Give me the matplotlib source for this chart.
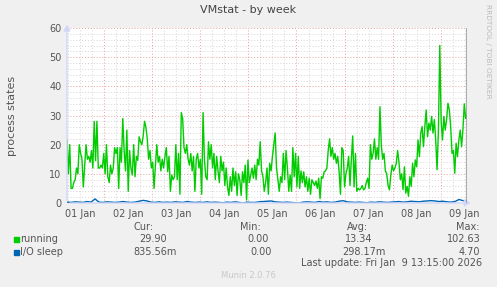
import matplotlib
matplotlib.use('Agg')
import matplotlib.pyplot as plt
import matplotlib.dates as mdates
from matplotlib.ticker import MultipleLocator, FuncFormatter, NullFormatter
from matplotlib.patches import Rectangle
from datetime import datetime

# time window of the week graph
start = datetime(2026, 1, 1, 5, 15)
end = datetime(2026, 1, 9, 13, 15)

# running processes left to right
running = [
    21.6, 10, 20, 5, 5, 7, 8, 12, 10, 20, 17, 15, 5.5, 13, 20, 15, 16, 14, 18, 12, 28, 14.5, 28, 12, 12, 13,
    12, 17, 10, 20, 9, 7, 13, 10, 12, 19, 17, 19, 5, 19, 14, 29,
    18, 11, 25, 4, 18, 12, 9.6, 20, 9, 16, 14.6, 22.7, 21, 20, 23, 28, 26, 22, 15, 18, 12, 14, 5, 13,
    20, 14, 16, 11, 15, 12, 16, 19, 10.7, 16, 4, 9.6, 8, 9, 20, 8,
    17, 3, 31, 29, 19, 17, 20, 15, 13, 17, 11, 16, 4, 15, 17, 12, 15, 3, 31, 15, 9, 8, 21, 15, 20, 12,
    17, 8, 16, 11, 7, 16, 11, 14, 6, 12, 5.5, 2.6, 9, 4, 12, 6,
    10.7, 2.6, 10, 8, 2.6, 10.7, 7, 13, 1, 14.7, 7, 9.6, 12, 8.5, 13, 8, 15, 13, 21, 11, 9, 4, 7, 12,
    3, 13.6, 11, 16, 20, 24, 12, 8, 4, 9, 7, 17, 8, 18, 12, 4, 9.6,
    4, 19, 9, 17, 5.5, 16, 5, 11, 7, 10.7, 5.5, 9, 4, 8.5, 3, 8, 7, 6, 7.5, 5, 8.5, 1.5, 9, 8.5, 10.7,
    11, 12, 18, 22, 16, 19, 15, 17, 13.6, 16, 10.7, 3, 19, 18, 5.5, 10,
    12, 16, 6, 15, 23, 5.5, 17, 4, 5, 4.5, 5, 6, 4.5, 5, 7, 8.5, 5, 20, 15, 17, 22, 15, 19, 15, 33, 20,
    15, 17, 11, 10, 6, 4.5, 9.6, 13, 11, 12, 13.6, 18, 14, 8, 10,
    4.6, 12.4, 3.4, 5.7, 2.3, 9, 5.7, 13.6, 9, 14.8, 12.4, 21.6, 15.9, 24, 26.2, 19.3, 26.2, 31.9, 22.7,
    27.4, 25, 29.7, 24, 28.6, 21.6, 11.4, 25, 54, 28, 21.6, 29.7, 25, 28.6, 34.2, 32, 26.2, 17, 18,
    10.2, 20.5, 15.9, 21.6, 25, 19.3, 25, 34, 29, 30,
]

# I/O sleep, every ~2 hours
io_sleep = [
    0.3, 0.2, 0.4, 0.3, 0.2, 0.5, 0.3, 1.4, 0.3, 0.2, 0.4, 0.3, 0.2, 0.3, 0.5, 0.3, 0.2, 0.3, 0.6, 0.9,
    0.7, 0.3, 0.2, 0.4, 0.2, 0.3, 0.2, 0.4, 0.3, 0.2, 0.5, 0.3, 0.2, 0.3, 0.2, 0.4, 0.2, 0.3, 0.2, 0.1,
    0.3, 0.2, 0.4, 0.2, 0.0, 0.3, 0.2, 0.2, 0.4, 0.5, 0.6, 0.7, 0.4, 0.3, 0.2, 0.3, 0.2, 0.1, 0.0, 0.3,
    0.4, 0.3, 0.2, 0.5, 0.3, 0.4, 0.2, 0.3, 0.6, 0.8, 0.4, 0.3, 0.2, 0.3, 0.2, 0.1, 0.3, 0.2, 0.4, 0.3,
    0.2, 0.3, 0.4, 0.5, 0.3, 0.4, 0.6, 0.5, 0.4, 0.6, 0.7, 0.8, 0.7, 0.5, 0.6, 0.4, 0.3, 0.5, 1.2, 0.8,
    0.84,
]

series_names = ['running', 'I/O sleep']
series_colors = ['#00CC00', '#0066B3']
cur_vals = ['29.90', '835.56m']
min_vals = ['0.00', '0.00']
avg_vals = ['13.34', '298.17m']
max_vals = ['102.63', '4.70']

t_run = [start + (end - start) * i / (len(running) - 1) for i in range(len(running))]
t_io = [start + (end - start) * i / (len(io_sleep) - 1) for i in range(len(io_sleep))]

W, H = 497, 287
fig = plt.figure(figsize=(W / 100, H / 100), dpi=100, facecolor='#F0F0F0')
ax = fig.add_axes([67 / W, 84 / H, 400 / W, 175 / H])
ax.set_facecolor('white')

ax.plot(t_run, running, color=series_colors[0], lw=1.0, zorder=3)
ax.plot(t_io, io_sleep, color=series_colors[1], lw=1.0, zorder=3)

ax.set_xlim(start, end)
ax.set_ylim(0, 60)

ax.yaxis.set_major_locator(MultipleLocator(10))
ax.yaxis.set_minor_locator(MultipleLocator(2))
ax.xaxis.set_major_locator(mdates.DayLocator())
ax.xaxis.set_major_formatter(NullFormatter())
ax.xaxis.set_minor_locator(mdates.HourLocator(byhour=[6, 12, 18]))


def noon_label(v, pos):
    d = mdates.num2date(v)
    return d.strftime('%d %b') if d.hour == 12 else ''


ax.xaxis.set_minor_formatter(FuncFormatter(noon_label))

ax.set_axisbelow(True)
dots = (0, (1, 2))
ax.grid(which='minor', color='#d6d6d6', ls=dots, lw=0.7)
ax.grid(which='major', color='#e8a0a0', ls=dots, lw=0.7)

ax.tick_params(which='both', length=0, labelsize=7, colors='#555555')
ax.tick_params(axis='x', which='both', pad=4)
ax.tick_params(axis='y', pad=4)
for s in ax.spines.values():
    s.set_visible(False)

# axis arrows and "now" line
axis_col = '#CFD6F8'
ax.annotate('', xy=(0, 1.035), xytext=(0, 0), xycoords='axes fraction',
            arrowprops=dict(arrowstyle='-|>,head_length=0.35,head_width=0.2', color=axis_col, lw=1),
            annotation_clip=False)
ax.annotate('', xy=(1.016, 0), xytext=(0, 0), xycoords='axes fraction',
            arrowprops=dict(arrowstyle='-|>,head_length=0.35,head_width=0.2', color=axis_col, lw=1),
            annotation_clip=False)
ax.axvline(end, color='#999999', lw=1.2, zorder=4)


def ptext(x, y, s, ha='left', size=7, color='#555555', **kw):
    fig.text(x / W, 1 - y / H, s, ha=ha, va='center', fontsize=size, color=color, **kw)


ptext(248.5, 10, 'VMstat - by week', ha='center', size=8, color='#444444')
ptext(12, 116, 'process states', ha='center', size=8, rotation=90)
ptext(488, 51, 'RRDTOOL / TOBI OETIKER', ha='center', size=5.3, color='#BBBBBB', rotation=270)

# legend block
ptext(133, 227, 'Cur:')
ptext(240, 227, 'Min:')
ptext(347, 227, 'Avg:')
ptext(456, 227, 'Max:')

rows_y = [239.5, 252]
cur_x = [139, 133]
min_x = [247, 250]
avg_x = [345, 342]
max_x = [447, 459]
for i, name in enumerate(series_names):
    y = rows_y[i]
    fig.patches.append(Rectangle((14 / W, 1 - (y + 2.5) / H), 5 / W, 5 / H,
                                 transform=fig.transFigure, color=series_colors[i]))
    ptext(20, y, name)
    ptext(cur_x[i], y, cur_vals[i])
    ptext(min_x[i], y, min_vals[i])
    ptext(avg_x[i], y, avg_vals[i])
    ptext(max_x[i], y, max_vals[i])

ptext(482, 263, 'Last update: Fri Jan  9 13:15:00 2026', ha='right')
ptext(248, 275, 'Munin 2.0.76', ha='center', size=6, color='#C8C8C8')

fig.savefig('out.png', dpi=100, facecolor=fig.get_facecolor())
